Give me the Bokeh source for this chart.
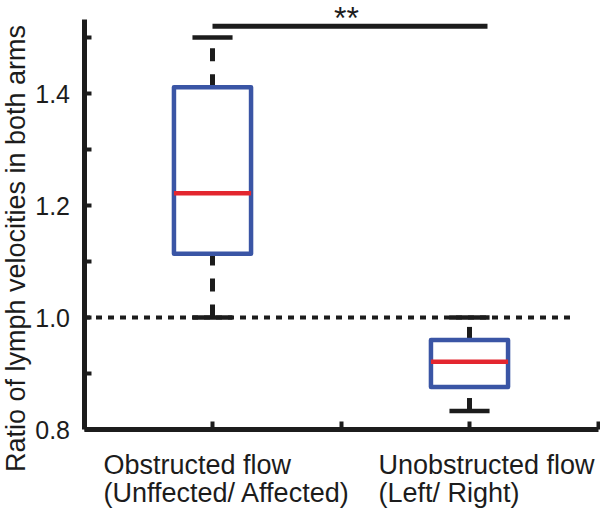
from math import pi
from bokeh.plotting import figure
from bokeh.models import Range1d, FixedTicker, Label, ColumnDataSource
from bokeh.embed import file_html
from bokeh.resources import INLINE

# ---- data ----
groups = [1.0, 2.0]
group_line1 = ["Obstructed flow", "Unobstructed flow"]
group_line2 = ["(Unffected/ Affected)", "(Left/ Right)"]
q1 = [1.114, 0.876]
median = [1.222, 0.921]
q3 = [1.411, 0.960]
whisker_low = [1.000, 0.833]
whisker_high = [1.500, 1.000]
reference_value = 1.0
y_ticks = [0.8, 0.9, 1.0, 1.1, 1.2, 1.3, 1.4, 1.5]
y_tick_labels = ["0.8", "", "1.0", "", "1.2", "", "1.4", ""]
x_ticks = [1.0, 1.5, 2.0, 2.5]
sig_from = 1.0
sig_to = 2.07
sig_level = 1.52
sig_text = "**"
y_title = "Ratio of lymph velocities in both arms"

FONT = "Liberation Sans"
INK = "#1c1c1c"
BLUE = "#3a55a5"
RED = "#e3262f"
HALF_BOX = 0.15
HALF_CAP = 0.078

p = figure(width=600, height=512,
           x_range=Range1d(0.1751, 2.5097), y_range=Range1d(0.6518, 1.5661),
           output_backend="svg", toolbar_location=None, title=None,
           min_border=0, min_border_left=0, min_border_right=0,
           min_border_top=0, min_border_bottom=0)
p.grid.visible = False
p.outline_line_color = None
p.background_fill_color = "white"
p.border_fill_color = "white"

# y axis (drawn at x = 0.5 inside the frame)
p.yaxis.fixed_location = 0.5
p.yaxis.bounds = (0.8, 1.532)
p.yaxis.ticker = FixedTicker(ticks=y_ticks)
p.yaxis.major_label_overrides = {t: l for t, l in zip(y_ticks, y_tick_labels)}
p.yaxis.major_tick_in = 7
p.yaxis.major_tick_out = 0
p.yaxis.minor_tick_in = 0
p.yaxis.minor_tick_out = 0
p.yaxis.major_tick_line_width = 4
p.yaxis.major_tick_line_color = INK
p.yaxis.axis_line_width = 5
p.yaxis.axis_line_color = INK
p.yaxis.major_label_standoff = 14
p.yaxis.major_label_text_font = FONT
p.yaxis.major_label_text_font_size = "25px"
p.yaxis.major_label_text_color = INK

# x axis (drawn at y = 0.8 inside the frame)
p.xaxis.fixed_location = 0.8
p.xaxis.bounds = (0.5, 2.5)
p.xaxis.ticker = FixedTicker(ticks=x_ticks)
p.xaxis.major_label_overrides = {t: "" for t in x_ticks}
p.xaxis.major_tick_in = 8
p.xaxis.major_tick_out = 0
p.xaxis.minor_tick_in = 0
p.xaxis.minor_tick_out = 0
p.xaxis.major_tick_line_width = 4
p.xaxis.major_tick_line_color = INK
p.xaxis.axis_line_width = 5
p.xaxis.axis_line_color = INK
p.xaxis.major_label_text_font_size = "1px"

src = ColumnDataSource(dict(
    x=groups,
    left=[g - HALF_BOX for g in groups],
    right=[g + HALF_BOX for g in groups],
    cap_l=[g - HALF_CAP for g in groups],
    cap_r=[g + HALF_CAP for g in groups],
    q1=q1, med=median, q3=q3, lo=whisker_low, hi=whisker_high,
))

# whiskers (drawn from low to high)
p.segment(x0="x", y0="lo", x1="x", y1="q1", source=src,
          line_color=INK, line_width=5, line_dash="13 13")
p.segment(x0="x", y0="q3", x1="x", y1="hi", source=src,
          line_color=INK, line_width=5, line_dash="13 13")
# caps
p.segment(x0="cap_l", y0="hi", x1="cap_r", y1="hi", source=src,
          line_color=INK, line_width=4.5)
p.segment(x0="cap_l", y0="lo", x1="cap_r", y1="lo", source=src,
          line_color=INK, line_width=4.5)
# boxes
p.quad(left="left", right="right", bottom="q1", top="q3", source=src,
       fill_color=None, line_color=BLUE, line_width=4.5, line_join="round")
p.segment(x0="left", y0="med", x1="right", y1="med", source=src,
          line_color=RED, line_width=4.5)

# reference dotted line
p.line(x=[0.5, 2.4086], y=[reference_value, reference_value],
       line_color=INK, line_width=4, line_dash="6 6")

# significance bar
p.line(x=[sig_from, sig_to], y=[sig_level, sig_level],
       line_color=INK, line_width=5)
p.add_layout(Label(x=1.5214, y=1.5355, text=sig_text,
                   text_align="center", text_baseline="alphabetic",
                   text_font=FONT, text_font_size="32px", text_color=INK))

# y axis title
p.add_layout(Label(x=0.237, y=1.1232, text=y_title, angle=pi / 2,
                   text_align="center", text_baseline="alphabetic",
                   text_font=FONT, text_font_size="27px", text_color=INK))

# category labels (two lines each)
for gx, l1, l2 in zip([0.5759, 1.6459], group_line1, group_line2):
    p.add_layout(Label(x=gx, y=0.7360, text=l1, text_align="left",
                       text_baseline="alphabetic", text_font=FONT,
                       text_font_size="27px", text_color=INK))
    p.add_layout(Label(x=gx, y=0.6860, text=l2, text_align="left",
                       text_baseline="alphabetic", text_font=FONT,
                       text_font_size="27px", text_color=INK))

open("out.html", "w").write(file_html(p, INLINE))
